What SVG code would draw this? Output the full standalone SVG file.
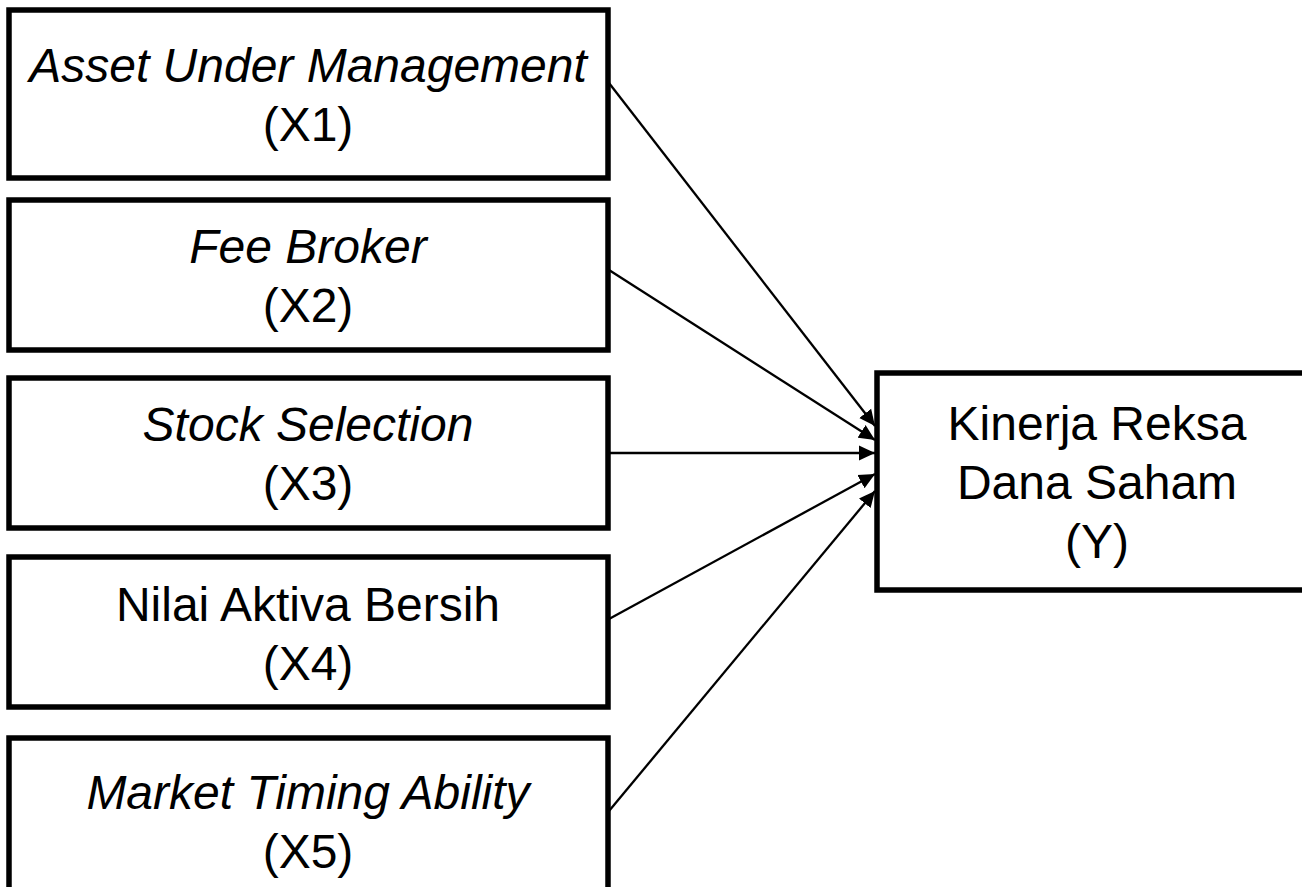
<svg xmlns="http://www.w3.org/2000/svg" width="1302" height="887" viewBox="0 0 1302 887">
<style>
.box{fill:#fff;stroke:#000;stroke-width:5.5}
.t{font-family:"Liberation Sans",Arial,sans-serif;font-size:48px;text-anchor:middle;fill:#000}
.i{font-style:italic}
.c{stroke:#000;stroke-width:2.3;fill:none}
</style>
<defs>
<marker id="ah" markerUnits="userSpaceOnUse" markerWidth="18" markerHeight="16" refX="16" refY="8" orient="auto">
<path d="M0,0.5 L16,8 L0,15.5 Z" fill="#000"/>
</marker>
</defs>
<rect width="1302" height="887" fill="#fff"/>
<g id="connectors">
<line class="c" x1="609" y1="83" x2="875" y2="426" marker-end="url(#ah)"/>
<line class="c" x1="609" y1="270" x2="875" y2="440" marker-end="url(#ah)"/>
<line class="c" x1="609" y1="453" x2="875" y2="453" marker-end="url(#ah)"/>
<line class="c" x1="609" y1="619" x2="875" y2="474" marker-end="url(#ah)"/>
<line class="c" x1="609" y1="811" x2="875" y2="491" marker-end="url(#ah)"/>
</g>
<g id="x1">
<rect class="box" x="9" y="10" width="599" height="168"/>
<text class="t i" x="308" y="82">Asset Under Management</text>
<text class="t" x="308" y="141">(X1)</text>
</g>
<g id="x2">
<rect class="box" x="9" y="200" width="599" height="150"/>
<text class="t i" x="308" y="263">Fee Broker</text>
<text class="t" x="308" y="322">(X2)</text>
</g>
<g id="x3">
<rect class="box" x="9" y="378" width="599" height="150"/>
<text class="t i" x="308" y="441">Stock Selection</text>
<text class="t" x="308" y="500">(X3)</text>
</g>
<g id="x4">
<rect class="box" x="9" y="557" width="599" height="150"/>
<text class="t" x="308" y="621">Nilai Aktiva Bersih</text>
<text class="t" x="308" y="680">(X4)</text>
</g>
<g id="x5">
<rect class="box" x="9" y="738" width="599" height="160"/>
<text class="t i" x="308" y="809">Market Timing Ability</text>
<text class="t" x="308" y="868">(X5)</text>
</g>
<g id="y">
<rect class="box" x="877" y="373" width="440" height="217"/>
<text class="t" x="1097" y="440">Kinerja Reksa</text>
<text class="t" x="1097" y="499">Dana Saham</text>
<text class="t" x="1097" y="558">(Y)</text>
</g>
</svg>
